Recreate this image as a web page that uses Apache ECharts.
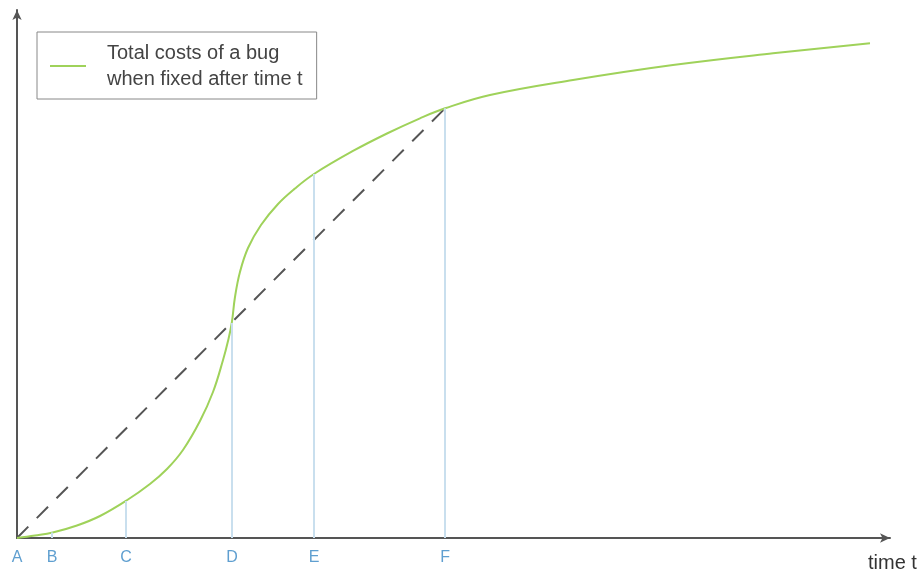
<!DOCTYPE html>
<html>
<head>
<meta charset="utf-8">
<script src="https://cdn.jsdelivr.net/npm/echarts@6/dist/echarts.min.js"></script>
<style>
  html, body { margin: 0; padding: 0; background: #fff; }
  #chart { width: 921px; height: 573px; }
</style>
</head>
<body>
<div id="chart"></div>
<script>
// time (x) and cost (y), both on a 0..100 scale
const curveTime = [0, 2.06, 4.09, 6.87, 9.51, 12.54, 15.23, 17.18, 19.01, 20.96, 22.45, 23.6, 24.17, 24.6,
  24.97, 25.54, 26.46, 27.95, 29.9, 31.84, 34.02, 38.49, 42.38, 46.16, 49.03, 54.18, 63.69, 75.14, 86.6, 97.71];
const curveCost = [0, 0.47, 1.04, 2.37, 4.17, 7.1, 10.23, 13.07, 16.67, 22.16, 27.65, 33.71, 37.31, 40.72,
  45.64, 50.38, 54.92, 59.28, 63.26, 66.19, 68.94, 73.3, 76.61, 79.49, 81.38, 83.9, 86.74, 89.58, 91.8, 93.69];

// marked moments on the time axis
const markNames = ['A', 'B', 'C', 'D', 'E', 'F'];
const markTime = [0, 4.01, 12.49, 24.63, 34.02, 49.03];
const markCost = [0, 1.04, 7.0, 40.72, 68.94, 81.38];

// straight dashed line from A to the curve at F
const dashTime = [0, 49.03];
const dashCost = [0, 81.38];

const seriesName = 'Total costs of a bug\nwhen fixed after time t';

const chart = echarts.init(document.getElementById('chart'));

const axisLine = {
  show: true,
  symbol: ['none', 'arrow'],
  symbolSize: [7, 10],
  lineStyle: { color: '#555', width: 2 }
};

const option = {
  animation: false,
  grid: { left: 17, right: 31, top: 10, bottom: 35 },
  legend: {
    left: 37,
    top: 32,
    padding: [8, 14, 7, 13],
    borderColor: '#888',
    borderWidth: 1,
    itemWidth: 36,
    itemHeight: 14,
    data: [{ name: seriesName, icon: 'path://M0,6h36v2h-36z' }],
    textStyle: {
      fontFamily: 'Liberation Sans, Arial, sans-serif',
      fontSize: 20,
      lineHeight: 26,
      color: '#444',
      padding: [0, 0, 0, 16]
    }
  },
  xAxis: {
    type: 'value',
    min: 0,
    max: 100,
    name: 'time t',
    nameLocation: 'end',
    nameGap: -22,
    nameTextStyle: {
      fontFamily: 'Liberation Sans, Arial, sans-serif',
      fontSize: 20,
      color: '#333',
      verticalAlign: 'top',
      padding: [15, 0, 0, 0]
    },
    axisLine: axisLine,
    axisTick: { show: false },
    splitLine: { show: false },
    axisLabel: {
      customValues: markTime,
      margin: 12,
      fontFamily: 'Liberation Sans, Arial, sans-serif',
      fontSize: 16,
      color: '#5f9fd0',
      formatter: v => {
        const i = markTime.indexOf(v);
        return i >= 0 ? markNames[i] : '';
      }
    }
  },
  yAxis: {
    type: 'value',
    min: 0,
    max: 100,
    axisLine: axisLine,
    axisTick: { show: false },
    axisLabel: { show: false },
    splitLine: { show: false }
  },
  series: [
    {
      name: 'dash',
      type: 'line',
      silent: true,
      symbol: 'none',
      data: dashTime.map((t, i) => [t, dashCost[i]]),
      lineStyle: { color: '#555', width: 2, type: [16, 12] },
      z: 2
    },
    {
      name: seriesName,
      type: 'line',
      symbol: 'none',
      smooth: 0.4,
      data: curveTime.map((t, i) => [t, curveCost[i]]),
      itemStyle: { color: '#9fd25a' },
      lineStyle: { color: '#9fd25a', width: 2 },
      markLine: {
        silent: true,
        symbol: 'none',
        label: { show: false },
        lineStyle: { color: '#c9dfee', width: 2, type: 'solid' },
        data: markTime.slice(1).map((t, i) => [
          { coord: [t, 0] },
          { coord: [t, markCost[i + 1]] }
        ])
      },
      z: 3
    }
  ]
};

chart.setOption(option);
</script>
</body>
</html>
